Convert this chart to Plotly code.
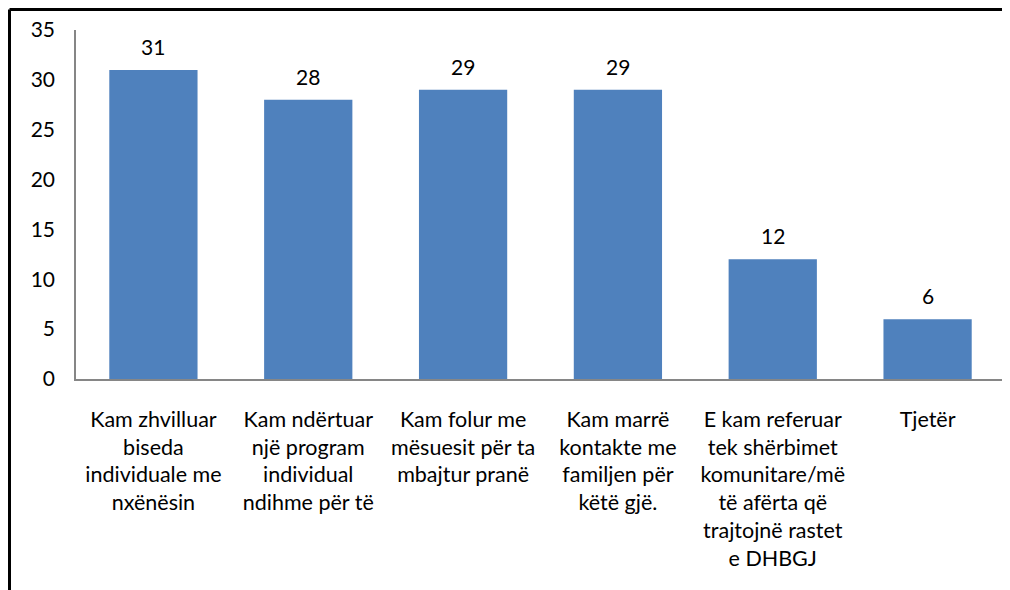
import plotly.graph_objects as go

categories = [
    "Kam zhvilluar<br>biseda<br>individuale me<br>nxënësin",
    "Kam ndërtuar<br>një program<br>individual<br>ndihme për të",
    "Kam folur me<br>mësuesit për ta<br>mbajtur pranë",
    "Kam marrë<br>kontakte me<br>familjen për<br>këtë gjë.",
    "E kam referuar<br>tek shërbimet<br>komunitare/më<br>të afërta që<br>trajtojnë rastet<br>e DHBGJ",
    "Tjetër",
]
values = [31, 28, 29, 29, 12, 6]
y_ticks = [0, 5, 10, 15, 20, 25, 30, 35]

# the page body adds an 8px offset; margins compensate so the plot lands where the reference has it
W, H = 1010, 590
ML, MR, MT, MB = 68, 13, 22, 219
FONT = dict(family="Lato, Noto Sans, sans-serif", size=21, color="black")
XFONT = dict(family="Lato, Noto Sans, sans-serif", size=21.5, color="black")

fig = go.Figure()
fig.add_trace(go.Bar(
    x=list(range(len(categories))), y=values,
    marker=dict(color="#4F81BD", line=dict(width=0)),
    width=0.57,
))
for i, v in enumerate(values):
    fig.add_annotation(x=i, y=v, text=str(v), showarrow=False,
                       yanchor="bottom", yshift=9, font=FONT)

pw = W - ML - MR
ph = H - MT - MB
left_x = (1.5 - ML) / pw
top_y = (ph + MT - 1.5) / ph
fig.add_shape(type="line", xref="paper", yref="paper",
              x0=left_x, x1=left_x, y0=top_y, y1=(MT + ph - H) / ph - 0.1,
              line=dict(color="black", width=3))
fig.add_shape(type="line", xref="paper", yref="paper",
              x0=left_x, x1=1.1, y0=top_y, y1=top_y,
              line=dict(color="black", width=3))

fig.update_layout(
    width=W, height=H,
    margin=dict(l=ML, r=MR, t=MT, b=MB, autoexpand=False),
    plot_bgcolor="white", paper_bgcolor="white",
    font=FONT, showlegend=False,
    xaxis=dict(
        tickmode="array", tickvals=list(range(len(categories))),
        ticktext=categories, range=[-0.5, len(categories) - 0.5],
        showline=True, linecolor="#868686", linewidth=1.5,
        showgrid=False, zeroline=False, ticks="", tickangle=0,
        ticklabelstandoff=20, tickfont=XFONT, automargin=False,
    ),
    yaxis=dict(
        range=[0, 35], tickmode="array", tickvals=y_ticks,
        showline=True, linecolor="#868686", linewidth=1.5,
        showgrid=False, zeroline=False, ticks="",
        ticklabelstandoff=15, tickfont=FONT, automargin=False,
    ),
)

fig.write_html("out.html")
